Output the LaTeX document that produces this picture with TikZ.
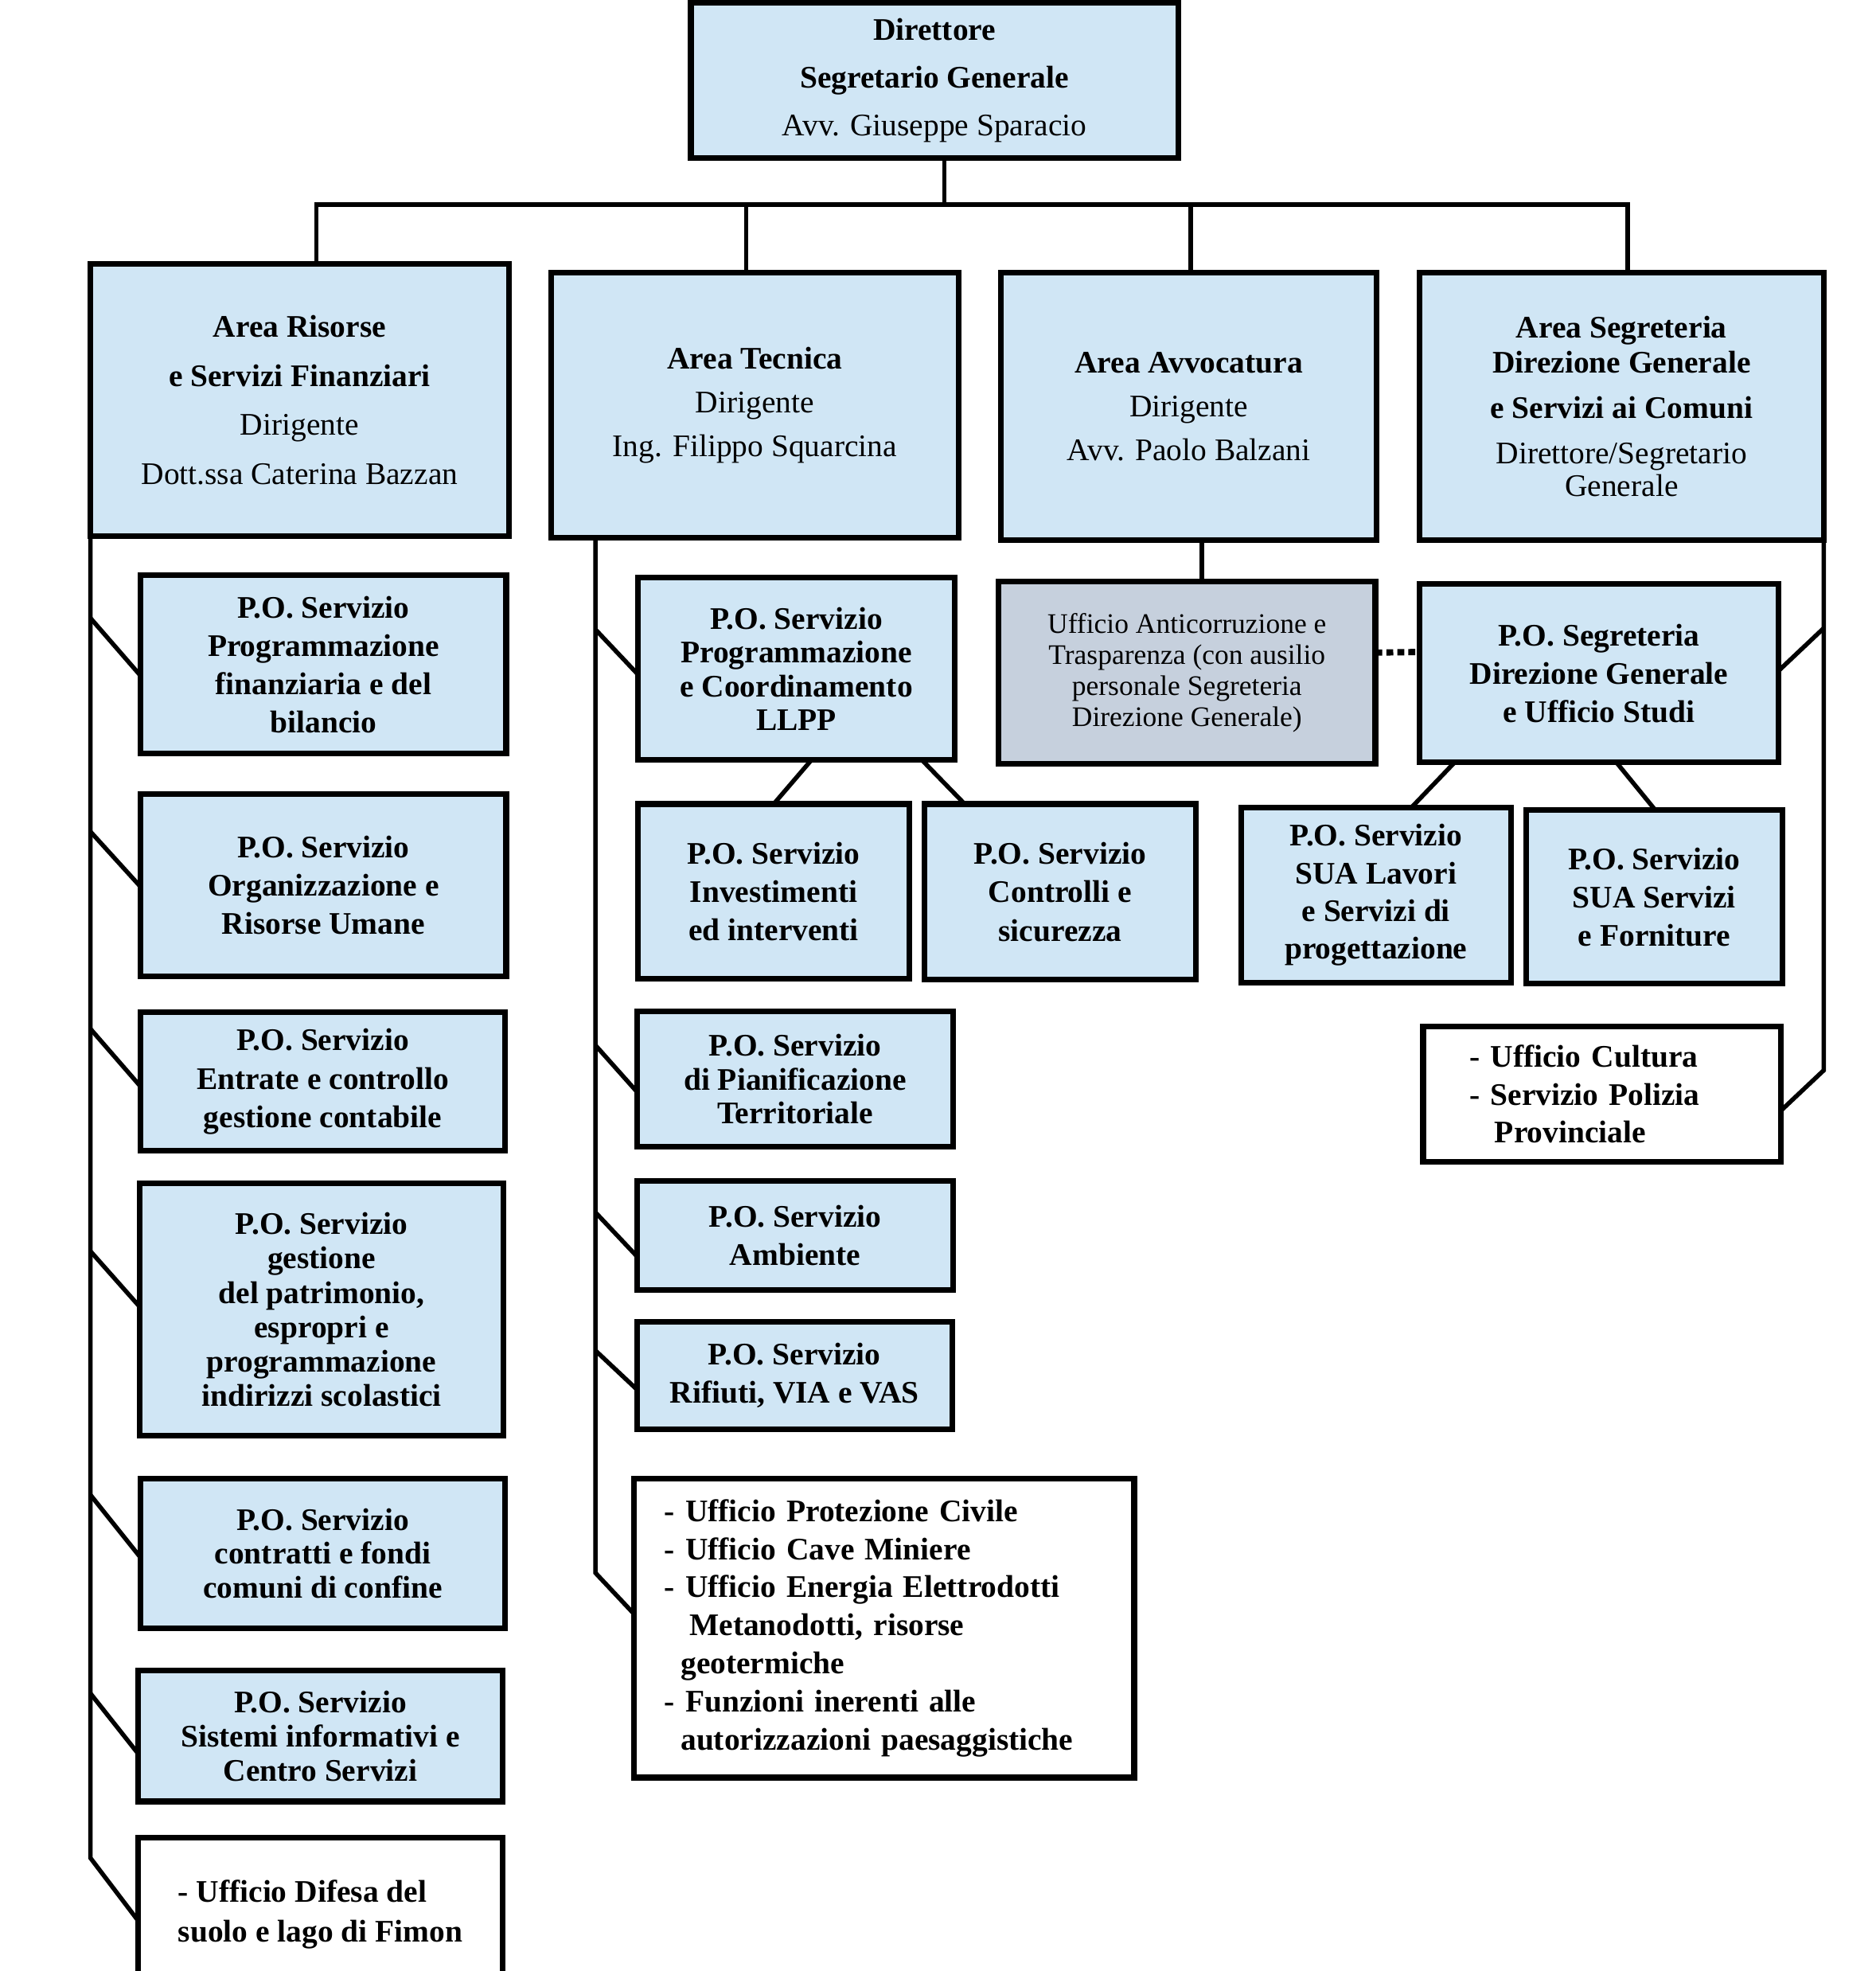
\documentclass[tikz,border=0pt]{standalone}
\usepackage{fontspec}
\setmainfont{Liberation Serif}
\usetikzlibrary{calc}
\definecolor{lblue}{RGB}{208,230,245}
\definecolor{gblue}{RGB}{198,208,221}
\tikzset{
 box/.style={draw=black, line width=4.5pt, fill=lblue, inner sep=0pt, outer sep=0pt, align=center, text=black, font=\bfseries\fontsize{25}{30.5}\selectfont},
 wbox/.style={box, fill=white, align=left},
 gbox/.style={box, fill=gblue, font=\fontsize{22.5}{24.7}\selectfont},
 conn/.style={draw=black, line width=3.5pt},
 dotline/.style={draw=black, line width=5pt, dash pattern=on 5.5pt off 3.25pt},
}
\newcommand\mybox[7]{%
 \pgfmathsetmacro\bcx{(#2+#4)/2}%
 \pgfmathsetmacro\bcy{(#3+#5)/2}%
 \pgfmathsetmacro\bw{#4-#2}%
 \pgfmathsetmacro\bh{#5-#3}%
 \node[#6, minimum width=\bw pt, minimum height=\bh pt] (#1) at (\bcx,\bcy) {#7};}
\begin{document}
\begin{tikzpicture}[x=1pt,y=-1pt]
\useasboundingbox (0,0) rectangle (1493,1569);
% top
\mybox{top}{550}{2}{938}{126}{box, font=\bfseries\fontsize{25}{38}\selectfont}{Direttore\\Segretario Generale\\{\mdseries Avv. Giuseppe Sparacio}}
% areas
\mybox{ris}{72}{210}{405}{427}{box, font=\bfseries\fontsize{25}{39}\selectfont}{Area Risorse\\e Servizi Finanziari\\{\mdseries Dirigente}\\{\mdseries Dott.ssa Caterina Bazzan}}
\mybox{tec}{439}{217}{763}{428}{box, font=\bfseries\fontsize{25}{35}\selectfont}{Area Tecnica\\{\mdseries Dirigente}\\{\mdseries Ing. Filippo Squarcina}}
\mybox{avv}{797}{217}{1096}{430}{box, font=\bfseries\fontsize{25}{35}\selectfont}{Area Avvocatura\\{\mdseries Dirigente}\\{\mdseries Avv. Paolo Balzani}}
\mybox{seg}{1130}{217}{1452}{430}{box, font=\bfseries\fontsize{25}{28}\selectfont}{Area Segreteria\\Direzione Generale\\[8pt]e Servizi ai Comuni\\[8pt]{\mdseries Direttore/Segretario}\\[-2pt]{\mdseries Generale}}
% left column
\mybox{b1}{112}{458}{403}{600}{box}{P.O. Servizio\\Programmazione\\finanziaria e del\\bilancio}
\mybox{b2}{112}{632}{403}{777}{box}{P.O. Servizio\\Organizzazione e\\Risorse Umane}
\mybox{b3}{112}{806}{402}{916}{box}{P.O. Servizio\\Entrate e controllo\\gestione contabile}
\mybox{b4}{111}{942}{401}{1143}{box, font=\bfseries\fontsize{25}{27.4}\selectfont}{P.O. Servizio\\gestione\\del patrimonio,\\espropri e\\programmazione\\indirizzi scolastici}
\mybox{b5}{112}{1177}{402}{1296}{box, font=\bfseries\fontsize{25}{27}\selectfont}{P.O. Servizio\\contratti e fondi\\comuni di confine}
\mybox{b6}{110}{1330}{400}{1434}{box, font=\bfseries\fontsize{25}{27}\selectfont}{P.O. Servizio\\Sistemi informativi e\\Centro Servizi}
\mybox{b7}{110}{1463}{400}{1585}{wbox, font=\bfseries\fontsize{25}{32}\selectfont}{- Ufficio Difesa del\\suolo e lago di Fimon}
% middle column
\mybox{llpp}{508}{460}{760}{605}{box, font=\bfseries\fontsize{25}{27}\selectfont}{P.O. Servizio\\Programmazione\\e Coordinamento\\LLPP}
\mybox{inv}{508}{640}{724}{779}{box}{P.O. Servizio\\Investimenti\\ed interventi}
\mybox{ctrl}{736}{640}{952}{780}{box}{P.O. Servizio\\Controlli e\\sicurezza}
\mybox{pian}{507}{805}{759}{913}{box, font=\bfseries\fontsize{25}{27}\selectfont}{P.O. Servizio\\di Pianificazione\\Territoriale}
\mybox{amb}{507}{940}{759}{1027}{box}{P.O. Servizio\\Ambiente}
\mybox{rif}{507}{1052}{758}{1138}{box}{P.O. Servizio\\Rifiuti, VIA e VAS}
\mybox{list}{505}{1177}{903}{1415}{wbox, text width=350pt, font=\bfseries\fontsize{25}{30.3}\selectfont}{- Ufficio Protezione Civile\\- Ufficio Cave Miniere\\- Ufficio Energia Elettrodotti\\\hspace*{20pt}Metanodotti, risorse\\\hspace*{13pt}geotermiche\\- Funzioni inerenti alle\\\hspace*{13pt}autorizzazioni paesaggistiche}
% right part
\mybox{anti}{795}{463}{1095}{608}{gbox}{Ufficio Anticorruzione e\\Trasparenza (con ausilio\\personale Segreteria\\Direzione Generale)}
\mybox{psg}{1130}{465}{1416}{607}{box}{P.O. Segreteria\\Direzione Generale\\e Ufficio Studi}
\mybox{lav}{988}{643}{1203}{782}{box, font=\bfseries\fontsize{25}{30}\selectfont}{P.O. Servizio\\SUA Lavori\\e Servizi di\\progettazione}
\mybox{ser}{1215}{645}{1419}{783}{box}{P.O. Servizio\\SUA Servizi\\e Forniture}
\mybox{cul}{1133}{817}{1418}{925}{wbox, text width=211pt, font=\bfseries\fontsize{25}{30}\selectfont}{- Ufficio Cultura\\- Servizio Polizia\\\hspace*{20pt}Provinciale}
% top connectors
\coordinate (barL) at (252,163);
\coordinate (barR) at (1296,163);
\coordinate (tdrop) at (752,163);
\coordinate (d2) at (594,163);
\coordinate (d3) at (948,163);
\draw[conn] ($(top.south)+(8,0)$) -- (tdrop);
\draw[conn] (barL |- ris.north) -- (barL) -- (barR) -- (barR |- seg.north);
\draw[conn] (d2) -- (d2 |- tec.north);
\draw[conn] (d3) -- (d3 |- avv.north);
% left spine
\coordinate (L1) at (72,492);
\coordinate (L2) at (72,662);
\coordinate (L3) at (72,819);
\coordinate (L4) at (72,996);
\coordinate (L5) at (72,1190);
\coordinate (L6) at (72,1348);
\coordinate (L7) at (72,1479);
\draw[conn] (ris.south west) -- (L7) -- ($(b7.north west)+(0,66)$);
\draw[conn] (L1) -- ($(b1.north west)+(0,80)$);
\draw[conn] (L2) -- ($(b2.north west)+(0,74)$);
\draw[conn] (L3) -- ($(b3.north west)+(0,59)$);
\draw[conn] (L4) -- ($(b4.north west)+(0,98)$);
\draw[conn] (L5) -- ($(b5.north west)+(0,63)$);
\draw[conn] (L6) -- ($(b6.north west)+(0,66)$);
% middle spine
\coordinate (Mx) at (474,0);
\coordinate (M1) at (474,501);
\coordinate (M2) at (474,832);
\coordinate (M3) at (474,965);
\coordinate (M4) at (474,1075);
\coordinate (M5) at (474,1252);
\draw[conn] (tec.south -| Mx) -- (M5) -- ($(list.north west)+(0,108)$);
\draw[conn] (M1) -- ($(llpp.north west)+(0,77)$);
\draw[conn] (M2) -- ($(pian.north west)+(0,64)$);
\draw[conn] (M3) -- ($(amb.north west)+(0,60)$);
\draw[conn] (M4) -- ($(rif.north west)+(0,54)$);
\draw[conn] ($(llpp.south)+(12,0)$) -- (inv.north);
\draw[conn] ($(llpp.south)+(100,0)$) -- ($(ctrl.north)+(-76,0)$);
% avvocatura
\coordinate (av) at ($(avv.south)+(10.5,0)$);
\draw[conn] (av) -- (av |- anti.north);
\draw[dotline] ($(anti.east)+(0,-16)$) -- ($(psg.west)+(0,-17)$);
% segreteria
\coordinate (R1) at (1452,500);
\coordinate (R2) at (1452,852);
\draw[conn] (seg.south east) -- (R2) -- ($(cul.north east)+(0,67)$);
\draw[conn] (R1) -- ($(psg.north east)+(0,69)$);
\draw[conn] ($(psg.south)+(-115,0)$) -- ($(lav.north)+(28,0)$);
\draw[conn] ($(psg.south)+(14,0)$) -- ($(ser.north)+(1,0)$);
\end{tikzpicture}
\end{document}
